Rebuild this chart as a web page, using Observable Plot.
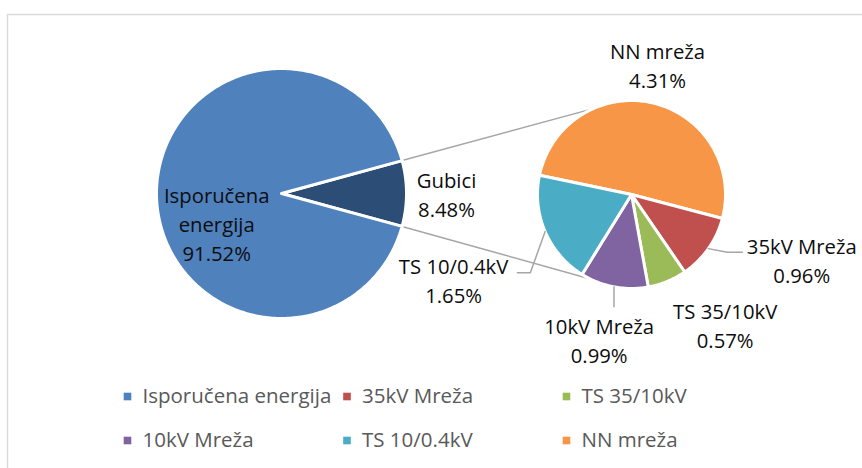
<!DOCTYPE html>
<html><head><meta charset="utf-8">
<script src="https://cdn.jsdelivr.net/npm/d3@7"></script>
<script src="https://cdn.jsdelivr.net/npm/@observablehq/plot@0.6"></script>
<style>body{margin:0;background:#fff;} #chart svg{font-family:"Open Sans",sans-serif;display:block;}</style>
</head><body><div id="chart"></div>
<script>
// ---- data ----
const mainCategories = ["Isporučena energija", "Gubici"];
const mainValues = [91.52, 8.48];
const mainLabelLines = [["Isporučena", "energija"], ["Gubici"]];
const subCategories = ["NN mreža", "35kV Mreža", "TS 35/10kV", "10kV Mreža", "TS 10/0.4kV"];
const subValues = [4.31, 0.96, 0.57, 0.99, 1.65];
const legendCategories = ["Isporučena energija", "35kV Mreža", "TS 35/10kV", "10kV Mreža", "TS 10/0.4kV", "NN mreža"];
const colorDomain = ["Isporučena energija", "Gubici", "NN mreža", "35kV Mreža", "TS 35/10kV", "10kV Mreža", "TS 10/0.4kV"];
const colorRange = ["#4F81BD", "#2C4D75", "#F79646", "#C0504D", "#9BBB59", "#8064A2", "#4BACC6"];

// ---- layout ----
const W = 862, H = 468;
const deg = Math.PI / 180;
const mainPie = {cx: 281, cy: 193, r: 125};
const subPie = {cx: 631, cy: 194, r: 94};
const subStart = -78.2 * deg;
const lineH = 29;
const polar = (c, a, d) => [c.cx + d * Math.sin(a), c.cy - d * Math.cos(a)];

// main pie: "other" slice (Gubici) centered at 3 o'clock
const gubiciSpan = 2 * Math.PI * mainValues[1] / d3.sum(mainValues);
const mainStart = Math.PI / 2 - gubiciSpan / 2;
const mainOrder = [1, 0];
const mainArcs = d3.pie().sort(null).value(i => mainValues[i])
  .startAngle(mainStart).endAngle(mainStart + 2 * Math.PI)(mainOrder);
const subArcs = d3.pie().sort(null).value(i => subValues[i])
  .startAngle(subStart).endAngle(subStart + 2 * Math.PI)(subCategories.map((_, i) => i));

function slicePoints(c, a0, a1, name) {
  const pts = [{x: c.cx, y: c.cy, name}];
  const n = Math.max(2, Math.ceil((a1 - a0) / deg));
  for (let k = 0; k <= n; k++) {
    const [x, y] = polar(c, a0 + (a1 - a0) * k / n, c.r);
    pts.push({x, y, name});
  }
  pts.push({x: c.cx, y: c.cy, name});
  return pts;
}
const slices = [
  ...mainArcs.flatMap(a => slicePoints(mainPie, a.startAngle, a.endAngle, mainCategories[a.data])),
  ...subArcs.flatMap(a => slicePoints(subPie, a.startAngle, a.endAngle, subCategories[a.data]))
];

// connector lines between pies
const connectors = [
  [polar(mainPie, mainStart, mainPie.r), polar(subPie, 336 * deg, subPie.r)],
  [polar(mainPie, mainStart + gubiciSpan, mainPie.r), polar(subPie, 206 * deg, subPie.r)]
].flatMap((seg, k) => seg.map(([x, y]) => ({x, y, k})));

// label placement (angle nudge in degrees, distance in radii)
const mainLabelPlace = [{nudge: -26.6, dist: 0.58}, {nudge: 0.7, dist: 1.32}];
const subLabelPlace = [
  {nudge: -1.7, dist: 1.38}, {nudge: -13.4, dist: 1.95}, {nudge: -12.8, dist: 1.73},
  {nudge: 1.6, dist: 1.61}, {nudge: -3, dist: 2.11}
];
const labels = [];
function addLabel(c, arc, lines, value, place) {
  const mid = (arc.startAngle + arc.endAngle) / 2 + place.nudge * deg;
  const [x, y] = polar(c, mid, place.dist * c.r);
  const all = [...lines, value.toFixed(2) + "%"];
  all.forEach((t, i) => labels.push({x, y: y + (i - (all.length - 1) / 2) * lineH, t}));
}
mainArcs.forEach(a => addLabel(mainPie, a, mainLabelLines[a.data], mainValues[a.data], mainLabelPlace[a.data]));
subArcs.forEach(a => addLabel(subPie, a, [subCategories[a.data]], subValues[a.data], subLabelPlace[a.data]));

// leader lines for the small-pie labels
const leaderSpec = [
  {i: 1, steps: [{a: 121.1, d: 1.19}, {dx: 15, dy: 0}]},
  {i: 3, steps: [{dx: 0, dy: 20}]},
  {i: 4, steps: [{a: 232.3, d: 1.36}, {dx: -13, dy: 0}]}
];
const leaders = leaderSpec.flatMap(({i, steps}) => {
  const arc = subArcs.find(a => a.data === i);
  const mid = (arc.startAngle + arc.endAngle) / 2;
  let p = polar(subPie, mid, subPie.r);
  const pts = [{x: p[0], y: p[1], i}];
  for (const s of steps) {
    p = s.a !== undefined ? polar(subPie, s.a * deg, s.d * subPie.r) : [p[0] + s.dx, p[1] + s.dy];
    pts.push({x: p[0], y: p[1], i});
  }
  return pts;
});

// legend grid
const legendLeft = 127, legendTop = 396, colW = 219.5, rowH = 44;
const legend = legendCategories.map((name, i) => ({
  name, x: legendLeft + (i % 3) * colW, y: legendTop + Math.floor(i / 3) * rowH
}));

const chart = Plot.plot({
  width: W, height: H,
  margin: 0,
  x: {domain: [0, W], range: [0, W], axis: null},
  y: {domain: [0, H], range: [0, H], axis: null},
  color: {domain: colorDomain, range: colorRange},
  marks: [
    Plot.frame({stroke: "#D9D9D9", strokeWidth: 1.5, insetLeft: 7, insetTop: 14, insetRight: -10, insetBottom: -10}),
    Plot.line(connectors, {x: "x", y: "y", z: "k", stroke: "#A6A6A6", strokeWidth: 1.5}),
    Plot.line(slices, {x: "x", y: "y", z: "name", fill: "name", stroke: "white", strokeWidth: 3, strokeLinejoin: "round"}),
    Plot.line(leaders, {x: "x", y: "y", z: "i", stroke: "#A6A6A6", strokeWidth: 1.5}),
    Plot.text(labels, {x: "x", y: "y", text: "t", fill: "#0D0D0D", fontSize: 20.3, textAnchor: "middle"}),
    Plot.dot(legend, {x: "x", y: "y", fill: "name", symbol: "square", r: 4.3}),
    Plot.text(legend, {x: d => d.x + 15, y: "y", text: "name", fill: "#595959", fontSize: 20.5, textAnchor: "start"})
  ]
});
document.getElementById("chart").append(chart);
</script>
</body></html>
